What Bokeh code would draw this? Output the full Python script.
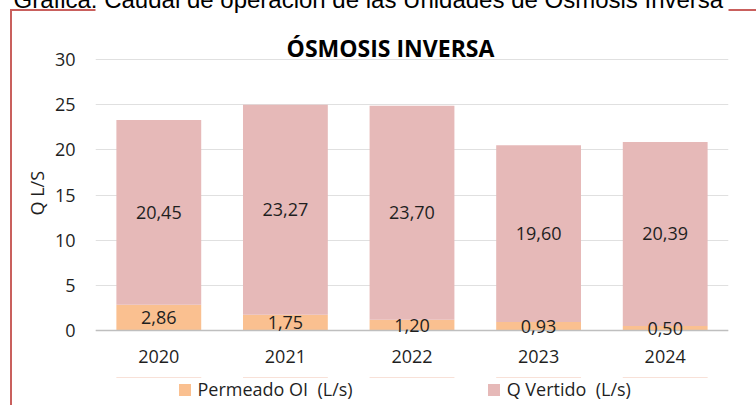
from bokeh.plotting import figure
from bokeh.layouts import column
from bokeh.models import (ColumnDataSource, FactorRange, LabelSet, Label, Legend,
                          LegendItem, FixedTicker, Span, Title)
from bokeh.core.properties import value
from bokeh.embed import file_html
from bokeh.resources import INLINE

# ---- data ----
years = ["2020", "2021", "2022", "2023", "2024"]
permeado = [2.86, 1.75, 1.20, 0.93, 0.50]
vertido = [20.45, 23.27, 23.70, 19.60, 20.39]
series_names = ["Permeado OI  (L/s)", "Q Vertido  (L/s)"]
y_ticks = [0, 5, 10, 15, 20, 25, 30]
chart_title = "ÓSMOSIS INVERSA"
caption = "Gráfica: Caudal de operación de las Unidades de Ósmosis Inversa"
y_title = "Q L/S"

C_PERM = "#FAC090"
C_VERT = "#E6B9B8"
C_BORDER = "#C9605D"
FONT = "Open Sans"
TXT = "#1f1f1f"

def fmt(v):
    return f"{v:.2f}".replace(".", ",")

src = ColumnDataSource(dict(
    year=years,
    perm=permeado,
    vert=vertido,
    perm_mid=[p / 2 for p in permeado],
    vert_mid=[p + v / 2 for p, v in zip(permeado, vertido)],
    perm_txt=[fmt(v) for v in permeado],
    vert_txt=[fmt(v) for v in vertido],
))

box_css = (f"linear-gradient({C_BORDER},{C_BORDER}) 10px 9px / 2px 100% no-repeat, "
           f"linear-gradient({C_BORDER},{C_BORDER}) 10px 9px / 100% 2px no-repeat, white")
side_css = f"linear-gradient({C_BORDER},{C_BORDER}) 10px 0px / 2px 100% no-repeat, white"

# main chart: frame reaches above the 30 line (room for the chart title) and a bit below 0
chart = figure(width=756, height=377, x_range=FactorRange(*years), y_range=(-1.0, 36.45),
               output_backend="svg", toolbar_location=None,
               min_border_left=95, min_border_right=28, min_border_top=0, min_border_bottom=38,
               outline_line_color=None, border_fill_color=None,
               styles={"background": box_css})
chart.title_location = None

rs = chart.vbar_stack(["perm", "vert"], x="year", width=0.67, color=[C_PERM, C_VERT],
                      line_color=None, source=src)

# axes
chart.yaxis.ticker = FixedTicker(ticks=y_ticks)
chart.yaxis.axis_line_color = None
chart.yaxis.major_tick_line_color = None
chart.yaxis.minor_tick_line_color = None
chart.yaxis.major_tick_out = 0
chart.yaxis.major_tick_in = 0
chart.yaxis.major_label_standoff = 20
chart.yaxis.major_label_text_font = FONT
chart.yaxis.major_label_text_font_size = "18px"
chart.yaxis.major_label_text_color = TXT

chart.xaxis.axis_line_color = None
chart.xaxis.major_tick_line_color = None
chart.xaxis.minor_tick_line_color = None
chart.xaxis.major_tick_out = 0
chart.xaxis.major_tick_in = 0
chart.xaxis.major_label_standoff = 10
chart.xaxis.major_label_text_font = FONT
chart.xaxis.major_label_text_font_size = "18px"
chart.xaxis.major_label_text_color = TXT

chart.xgrid.grid_line_color = None
chart.ygrid.grid_line_color = "#E0E0E0"
chart.ygrid.grid_line_width = 1

# y axis title, placed beside the tick labels
chart.add_layout(Title(text=y_title, align="left", offset=124, vertical_align="bottom",
                       standoff=6, text_font=FONT, text_font_size="18px",
                       text_font_style="normal", text_color=TXT), "left")

# category axis baseline at zero
chart.add_layout(Span(location=0, dimension="width", line_color="#BFBFBF", line_width=1.5))

# data labels
for ycol, tcol in (("perm_mid", "perm_txt"), ("vert_mid", "vert_txt")):
    chart.add_layout(LabelSet(x="year", y=ycol, text=tcol, source=src,
                              text_align="center", text_baseline="middle",
                              text_font=value(FONT), text_font_size="18px", text_color=TXT))

# chart title (inside the extended frame)
chart.add_layout(Label(x=2.33, y=31.3, text=chart_title,
                       text_align="center", text_baseline="alphabetic",
                       text_font=FONT, text_font_style="bold", text_font_size="23px",
                       text_color="#000000"))

# cropped caption at the very top of the page
chart.add_layout(Title(text=caption, align="left", offset=-82, vertical_align="top",
                       standoff=-28.5, text_font="Liberation Sans", text_font_size="24px",
                       text_font_style="normal", text_color="#000000"), "above")

# legend strip below the chart (its own bars lie outside its visible range)
strip = figure(width=756, height=28, x_range=FactorRange(*years), y_range=(-10, -9),
               output_backend="svg", toolbar_location=None,
               x_axis_location=None, y_axis_location=None,
               min_border=0, outline_line_color=None, border_fill_color=None,
               styles={"background": side_css})
strip.xgrid.visible = False
strip.ygrid.visible = False
swatches = strip.vbar_stack(["perm", "vert"], x="year", width=0.67, color=[C_PERM, C_VERT],
                            line_color=None, source=src)
lg = Legend(items=[LegendItem(label=series_names[0], renderers=[swatches[0]]),
                   LegendItem(label=series_names[1], renderers=[swatches[1]])],
            location=(81.5, 4), orientation="horizontal",
            glyph_width=15, glyph_height=15, label_standoff=6, spacing=133,
            label_text_font=FONT, label_text_font_size="18px", label_text_color=TXT,
            padding=0, margin=0, border_line_color=None, background_fill_alpha=0)
strip.add_layout(lg, "center")

p = column(chart, strip, spacing=0)

open("out.html", "w").write(file_html(p, INLINE))
